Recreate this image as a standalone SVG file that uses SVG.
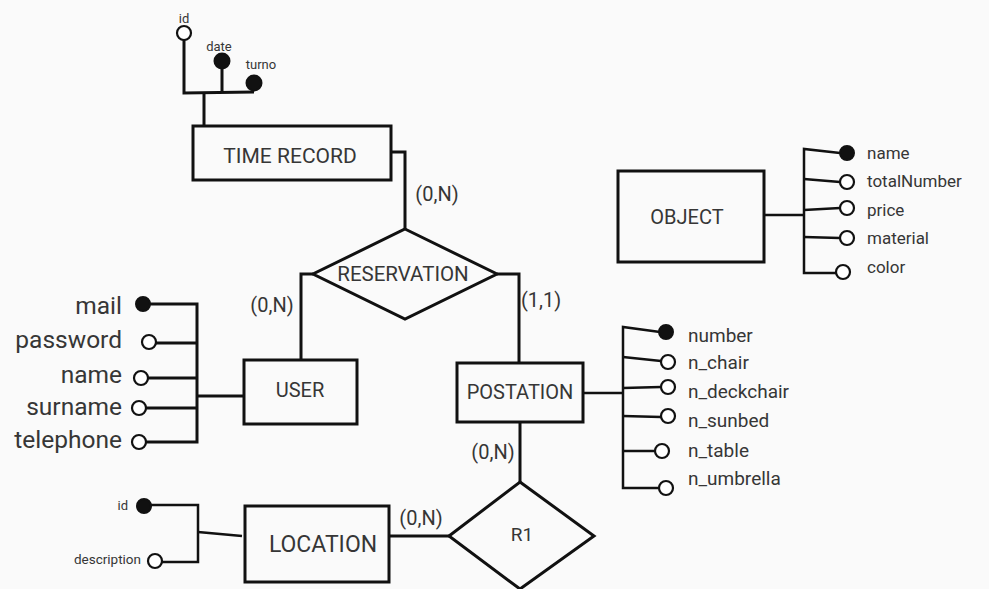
<svg xmlns="http://www.w3.org/2000/svg" width="989" height="589" viewBox="0 0 989 589">
<style>
text{font-family:Roboto,"Liberation Sans",sans-serif;fill:#363636}
.box{fill:none;stroke:#111;stroke-width:3}
.ln{fill:none;stroke:#111;stroke-width:3}
.ln2{fill:none;stroke:#111;stroke-width:2.5}
.key{fill:#111;stroke:#111;stroke-width:2}
.att{fill:#fff;stroke:#111;stroke-width:2.2}
.c{text-anchor:middle;dominant-baseline:central}
.l{dominant-baseline:central}
.r{text-anchor:end;dominant-baseline:central}
</style>
<rect width="989" height="589" fill="#fafafa"/>
<g id="connectors">
<polyline class="ln" points="391,152 405,152 405,229"/>
<polyline class="ln" points="313,274 301,274 301,360"/>
<polyline class="ln" points="497,274 519,274 519,363"/>
<line class="ln" x1="520" y1="422" x2="520" y2="482"/>
<line class="ln" x1="389" y1="536" x2="449" y2="536"/>
<text class="c" x="437" y="194" font-size="20">(0,N)</text>
<text class="c" x="272" y="305" font-size="20">(0,N)</text>
<text class="c" x="541" y="300" font-size="20">(1,1)</text>
<text class="c" x="493" y="452" font-size="20">(0,N)</text>
<text class="c" x="421" y="518" font-size="20">(0,N)</text>
</g>
<g id="time-record">
<rect class="box" x="193" y="126" width="198" height="54"/>
<text class="c" x="290" y="156" font-size="21">TIME RECORD</text>
<polyline class="ln" points="184,40 184,93 254,92"/>
<line class="ln" x1="222" y1="61" x2="222" y2="93"/>
<line class="ln" x1="204" y1="93" x2="204" y2="126"/>
<circle class="att" cx="184" cy="33" r="7"/>
<circle class="key" cx="222" cy="61" r="7.5"/>
<circle class="key" cx="254" cy="83" r="7.5"/>
<text class="c" x="184" y="18" font-size="13">id</text>
<text class="c" x="219" y="46" font-size="13">date</text>
<text class="c" x="261" y="64" font-size="13">turno</text>
</g>
<g id="reservation">
<polygon points="405,229 497,274 405,319 313,274" fill="none" stroke="#111" stroke-width="3"/>
<text class="c" x="403" y="274" font-size="20.5">RESERVATION</text>
</g>
<g id="user">
<rect class="box" x="244" y="360" width="113" height="64"/>
<text class="c" x="300" y="390" font-size="20">USER</text>
<polyline class="ln" points="150,304 197,304 197,442 146,442"/>
<line class="ln" x1="156" y1="343" x2="197" y2="343"/>
<line class="ln" x1="148" y1="378" x2="197" y2="378"/>
<line class="ln" x1="146" y1="408" x2="197" y2="408"/>
<line class="ln" x1="197" y1="396" x2="244" y2="396"/>
<circle class="key" cx="143" cy="304" r="7"/>
<circle class="att" cx="149" cy="342" r="7"/>
<circle class="att" cx="141" cy="378" r="7"/>
<circle class="att" cx="139" cy="408" r="7"/>
<circle class="att" cx="139" cy="442" r="7"/>
<text class="r" x="122" y="305" font-size="24.5">mail</text>
<text class="r" x="122" y="339" font-size="24.5">password</text>
<text class="r" x="122" y="374" font-size="24.5">name</text>
<text class="r" x="122" y="406" font-size="24.5">surname</text>
<text class="r" x="122" y="439" font-size="24.5">telephone</text>
</g>
<g id="postation">
<rect class="box" x="457" y="363" width="126" height="59"/>
<text class="c" x="520" y="392" font-size="20">POSTATION</text>
<line class="ln2" x1="583" y1="393" x2="623" y2="393"/>
<polyline class="ln2" points="660,332 623,327 623,488 659,488"/>
<line class="ln2" x1="623" y1="357" x2="661" y2="361"/>
<line class="ln2" x1="623" y1="388" x2="661" y2="387"/>
<line class="ln2" x1="623" y1="416" x2="661" y2="417"/>
<line class="ln2" x1="623" y1="451" x2="655" y2="451"/>
<circle class="key" cx="666" cy="332" r="7"/>
<circle class="att" cx="668" cy="362" r="7"/>
<circle class="att" cx="668" cy="387" r="7"/>
<circle class="att" cx="668" cy="416" r="7"/>
<circle class="att" cx="662" cy="451" r="7"/>
<circle class="att" cx="666" cy="488" r="7"/>
<text class="l" x="688" y="335" font-size="19">number</text>
<text class="l" x="688" y="362" font-size="19">n_chair</text>
<text class="l" x="688" y="391" font-size="19">n_deckchair</text>
<text class="l" x="688" y="420" font-size="19">n_sunbed</text>
<text class="l" x="688" y="450" font-size="19">n_table</text>
<text class="l" x="688" y="478" font-size="19">n_umbrella</text>
</g>
<g id="r1">
<polygon points="520,482 594,536 520,589 449,536" fill="none" stroke="#111" stroke-width="3"/>
<text class="c" x="522" y="534" font-size="19">R1</text>
</g>
<g id="location">
<rect class="box" x="245" y="506" width="144" height="76"/>
<text class="c" x="323" y="544" font-size="23">LOCATION</text>
<polyline class="ln2" points="150,505 198,505 198,562 162,562"/>
<line class="ln2" x1="198" y1="532" x2="242" y2="536"/>
<circle class="key" cx="144" cy="506" r="7"/>
<circle class="att" cx="155" cy="561" r="7"/>
<text class="r" x="128" y="505" font-size="13">id</text>
<text class="r" x="141" y="559" font-size="13.5">description</text>
</g>
<g id="object">
<rect class="box" x="618" y="171" width="146" height="91"/>
<text class="c" x="687" y="217" font-size="20">OBJECT</text>
<line class="ln2" x1="764" y1="215" x2="804" y2="215"/>
<polyline class="ln2" points="840,153 804,149 804,273 836,273"/>
<line class="ln2" x1="804" y1="179" x2="840" y2="182"/>
<line class="ln2" x1="804" y1="210" x2="840" y2="208"/>
<line class="ln2" x1="804" y1="237" x2="840" y2="238"/>
<circle class="key" cx="847" cy="153" r="7"/>
<circle class="att" cx="847" cy="182" r="7"/>
<circle class="att" cx="847" cy="208" r="7"/>
<circle class="att" cx="847" cy="238" r="7"/>
<circle class="att" cx="843" cy="272" r="7"/>
<text class="l" x="867" y="153" font-size="17">name</text>
<text class="l" x="867" y="181" font-size="17">totalNumber</text>
<text class="l" x="867" y="210" font-size="17">price</text>
<text class="l" x="867" y="238" font-size="17">material</text>
<text class="l" x="867" y="267" font-size="17">color</text>
</g>
</svg>
